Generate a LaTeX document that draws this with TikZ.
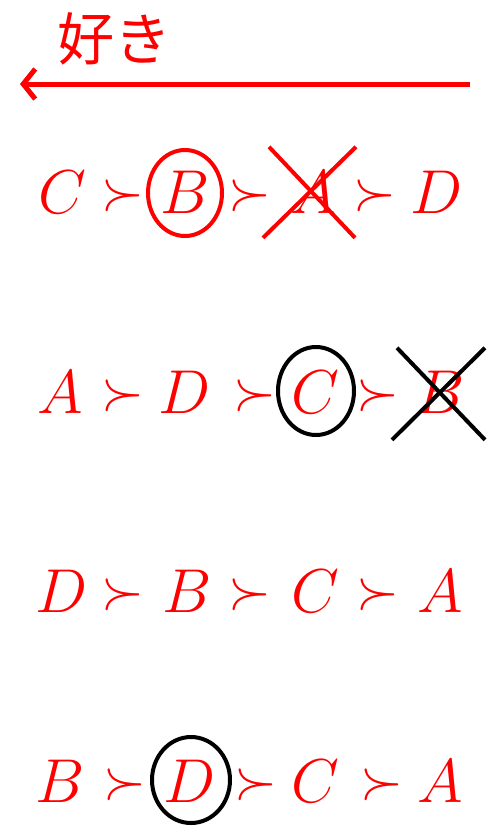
\RequirePackage{fix-cm}
\documentclass[tikz,border=0pt]{standalone}
\usepackage{fontspec}
\newfontfamily\jpfont{Noto Sans CJK JP}
\usepackage{tikz}
\usetikzlibrary{arrows.meta,shapes.geometric,calc}
\definecolor{cred}{HTML}{FF0000}

\begin{document}
\begin{tikzpicture}[
    x=1pt, y=-1pt,
    sym/.style={anchor=base, text=cred, inner sep=0pt, font=\fontsize{62}{62}\selectfont},
    rel/.style={sym, font=\fontsize{55}{55}\selectfont, yshift=4pt},
    ring/.style={draw, ellipse, line width=4pt, inner sep=0pt},
    cross/.style={line width=4pt},
]
\useasboundingbox (0,0) rectangle (494,827);

% preference arrow
\node[text=cred, font=\jpfont\fontsize{57}{57}\selectfont] (suki) at (114,39) {好き};
\coordinate (arrS) at (470,84);
\coordinate (arrE) at (20,84);
\draw[cred, line width=5pt, -{Straight Barb[length=12pt, width=30pt, line width=5pt]}] (arrS) -- (arrE);

% row 1: C > B > A > D
\node[sym] (r1c) at (62,213) {$C$};
\node[rel] (r1g1) at (123,213) {$\succ$};
\node[sym] (r1b) at (185,213) {$B$};
\node[rel] (r1g2) at (250,213) {$\succ$};
\node[sym] (r1a) at (313,213) {$A$};
\node[rel] (r1g3) at (375,213) {$\succ$};
\node[sym] (r1d) at (437,213) {$D$};
\node[ring, cred, minimum width=74, minimum height=86] (r1ring) at (185,193) {};
\draw[cross, cred] ($(r1a.center)+(-50,46)$) -- ($(r1a.center)+(43,-45)$);
\draw[cross, cred] ($(r1a.center)+(-44,-45)$) -- ($(r1a.center)+(42,46)$);

% row 2: A > D > C > B
\node[sym] (r2a) at (60,413) {$A$};
\node[rel] (r2g1) at (123,413) {$\succ$};
\node[sym] (r2d) at (185,413) {$D$};
\node[rel] (r2g2) at (255,413) {$\succ$};
\node[sym] (r2c) at (315,413) {$C$};
\node[rel] (r2g3) at (378,413) {$\succ$};
\node[sym] (r2b) at (440,413) {$B$};
\node[ring, black, minimum width=76, minimum height=88] (r2ring) at (316,391) {};
\draw[cross] ($(r2b.center)+(-48,48)$) -- ($(r2b.center)+(45,-44)$);
\draw[cross] ($(r2b.center)+(-43,-44)$) -- ($(r2b.center)+(45,48)$);

% row 3: D > B > C > A
\node[sym] (r3d) at (62,612) {$D$};
\node[rel] (r3g1) at (123,612) {$\succ$};
\node[sym] (r3b) at (187,612) {$B$};
\node[rel] (r3g2) at (250,612) {$\succ$};
\node[sym] (r3c) at (315,612) {$C$};
\node[rel] (r3g3) at (378,612) {$\succ$};
\node[sym] (r3a) at (440,612) {$A$};

% row 4: B > D > C > A
\node[sym] (r4b) at (60,802) {$B$};
\node[rel] (r4g1) at (125,802) {$\succ$};
\node[sym] (r4d) at (190,802) {$D$};
\node[rel] (r4g2) at (256,802) {$\succ$};
\node[sym] (r4c) at (315,802) {$C$};
\node[rel] (r4g3) at (382,802) {$\succ$};
\node[sym] (r4a) at (440,802) {$A$};
\node[ring, black, minimum width=78, minimum height=86] (r4ring) at (191,780) {};

\end{tikzpicture}
\end{document}
